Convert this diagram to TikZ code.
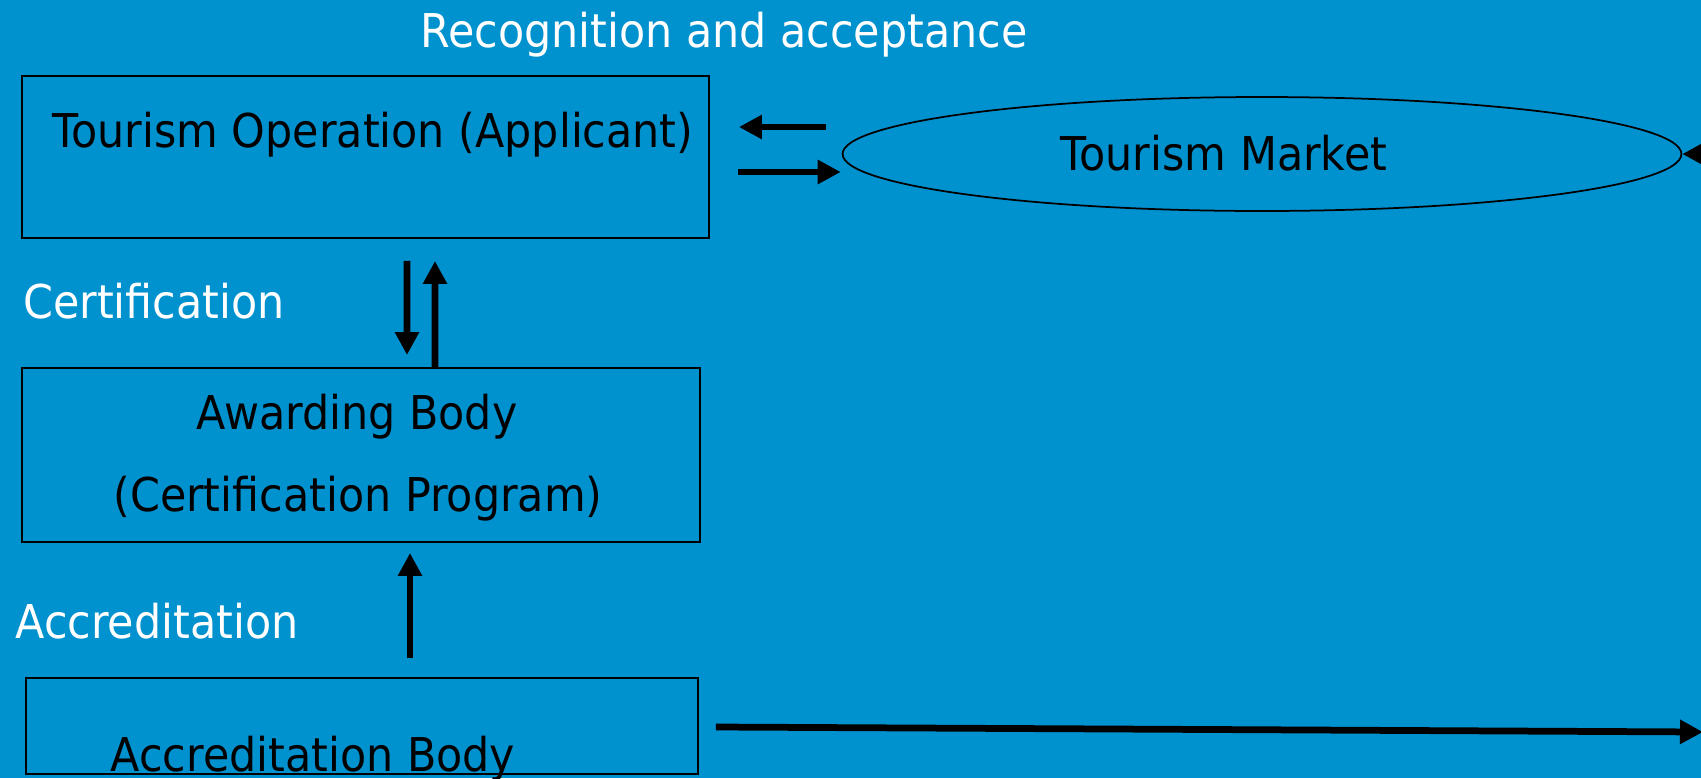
\documentclass[tikz,border=0pt]{standalone}
\usepackage{fontspec}
\setmainfont{DejaVu Sans}[FakeStretch=0.92]
\usetikzlibrary{calc,shapes.geometric,arrows.meta}
\definecolor{slideblue}{RGB}{0,145,207}

\begin{document}
\begin{tikzpicture}[x=0.02cm, y=-0.02cm,
	box/.style={draw, line width=0.04cm, inner sep=0pt},
	txt/.style={anchor=base, inner sep=0pt, font=\fontsize{26.5}{32}\selectfont},
	bigarrow/.style={line width=0.135cm, -{Triangle[length=0.46cm, width=0.46cm]}}]
		\useasboundingbox (0,0) rectangle (1701,778);
		\fill[slideblue] (0,0) rectangle (1701,778);
		\clip (0,0) rectangle (1701,778);
		\node[box, minimum width=13.74cm, minimum height=3.24cm] (op) at (365.5,157) {};
		\node[box, minimum width=13.56cm, minimum height=3.48cm] (aw) at (361,455) {};
		\node[box, minimum width=13.44cm, minimum height=1.92cm] (acc) at (362,726) {};
		\node[draw, ellipse, line width=0.035cm, inner sep=0pt, minimum width=16.78cm, minimum height=2.28cm] (market) at (1262,154) {};
		\node[txt, white] (title) at (724,47) {Recognition and acceptance};
		\node[txt] (optext) at (373,147) {Tourism Operation (Applicant)};
		\node[txt] (mktext) at (1224,170) {Tourism Market};
		\node[txt, white] (cert) at (154,318) {Certification};
		\node[txt] (awtext) at (357,429) {Awarding Body};
		\node[txt] (prog) at (358,511) {(Certification Program)};
		\node[txt, white] (accr) at (157,638) {Accreditation};
		\node[txt] (acctext) at (313,771) {Accreditation Body};
		\coordinate (mkin) at (1740,154);
		\coordinate (accout) at (1703,732);
		\draw[bigarrow] ($(market.west)+(-16,-27)$) -- ($(op.east)+(29,-30)$);
		\draw[bigarrow] ($(op.east)+(28,15)$) -- ($(market.west)+(-1,18)$);
		\draw[bigarrow] (mkin) -- (market.east);
		\draw[bigarrow] ($(op.south)+(41.5,22)$) -- ($(aw.north)+(46,-12)$);
		\draw[bigarrow] ($(aw.north)+(74,0)$) -- ($(op.south)+(69.5,22)$);
		\draw[bigarrow] ($(acc.north)+(48,-19)$) -- ($(aw.south)+(49,10)$);
		\draw[bigarrow] ($(acc.east)+(17,1)$) -- (accout);
\end{tikzpicture}
\end{document}
